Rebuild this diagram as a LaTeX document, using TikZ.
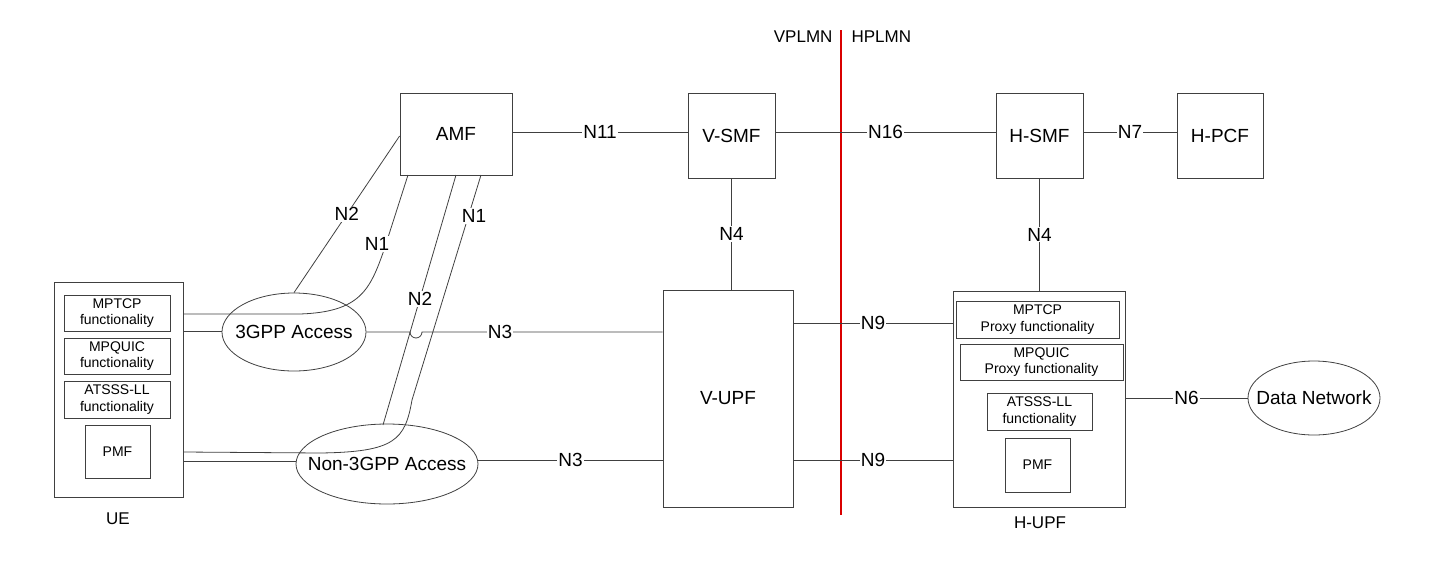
\documentclass[tikz,border=0pt]{standalone}
\usepackage{fontspec}
\setmainfont{Liberation Sans}
\usetikzlibrary{shapes.geometric}
\begin{document}
\begin{tikzpicture}[x=1pt,y=-1pt,
  ln/.style={line width=0.8pt,draw=black!75},
  box/.style={draw=black!75,line width=0.8pt,inner sep=0pt,font=\fontsize{19}{21}\selectfont},
  sub/.style={draw=black!75,line width=0.8pt,inner sep=0pt,align=center,font=\fontsize{14}{16.5}\selectfont},
  ell/.style={ellipse,draw=black!75,line width=0.8pt,inner sep=0pt},
  etxt/.style={font=\fontsize{19}{21}\selectfont},
  lbl/.style={fill=white,inner sep=1pt,font=\fontsize{19}{21}\selectfont}]
\useasboundingbox (0,0) rectangle (1430,576);
% UE
\node[box,minimum width=129,minimum height=215] (ue) at (118.5,389.5) {};
\node[font=\fontsize{17}{19}\selectfont] (uel) at (118,519) {UE};
\node[sub,minimum width=106,minimum height=36] (u1) at (117,313) {MPTCP\\functionality};
\node[sub,minimum width=106,minimum height=36] (u2) at (117,356) {MPQUIC\\functionality};
\node[sub,minimum width=106,minimum height=37] (u3) at (117,399.5) {ATSSS-LL\\functionality};
\node[sub,minimum width=65,minimum height=53] (u4) at (117.5,451.5) {PMF};
% access
\node[ell,minimum width=144,minimum height=78] (a3) at (294,332) {};
\node[etxt] (a3t) at (294,332) {3GPP Access};
\node[ell,minimum width=182,minimum height=80] (an) at (387,464) {};
\node[etxt] (ant) at (387,464) {Non-3GPP Access};
% core
\node[box,minimum width=112,minimum height=82] (amf) at (456,134) {AMF};
\node[box,minimum width=87,minimum height=85] (vsmf) at (731.5,135.5) {V-SMF};
\node[box,minimum width=87,minimum height=85] (hsmf) at (1039.5,135.5) {H-SMF};
\node[box,minimum width=86,minimum height=85] (hpcf) at (1220,135.5) {H-PCF};
\node[box,minimum width=130,minimum height=217] (vupf) at (728,398.5) {V-UPF};
\node[box,minimum width=172,minimum height=216] (hupf) at (1039,399) {};
\node[font=\fontsize{17}{19}\selectfont] (hupfl) at (1040,523) {H-UPF};
\node[sub,minimum width=163,minimum height=37] (h1) at (1037.5,319.5) {MPTCP\\Proxy functionality};
\node[sub,minimum width=163,minimum height=36] (h2) at (1041.5,362) {MPQUIC\\Proxy functionality};
\node[sub,minimum width=105,minimum height=37] (h3) at (1039.5,411.5) {ATSSS-LL\\functionality};
\node[sub,minimum width=65,minimum height=54] (h4) at (1037.5,465) {PMF};
\node[ell,minimum width=132,minimum height=74] (dn) at (1314,398) {};
\node[etxt] (dnt) at (1314,398) {Data Network};
% red line
\draw[draw=red!85!black,line width=2.5pt] (841,30) -- (841,515);
\node[font=\fontsize{17}{19}\selectfont,anchor=east] (vp) at (836,37) {VPLMN};
\node[font=\fontsize{17}{19}\selectfont,anchor=west] (hp) at (848,37) {HPLMN};
% connectors
\draw[ln] (amf.east |- 0,132) -- node[lbl] {N11} (vsmf.west |- 0,132);
\draw[ln] (vsmf.east |- 0,132) -- node[lbl] {N16} (hsmf.west |- 0,132);
\draw[ln] (hsmf.east |- 0,132) -- node[lbl] {N7} (hpcf.west |- 0,132);
\draw[ln] (vsmf.south) -- node[lbl] {N4} (vsmf.south |- vupf.north);
\draw[ln] (hsmf.south) -- node[lbl] {N4} (hsmf.south |- hupf.north);
\draw[ln] (vupf.east |- 0,323) -- node[lbl] {N9} (hupf.west |- 0,323);
\draw[ln] (vupf.east |- 0,460) -- node[lbl] {N9} (hupf.west |- 0,460);
\draw[ln] (hupf.east |- dn.west) -- node[lbl] {N6} (dn.west);
\coordinate (hop1) at (410,332);
\draw[ln] (a3.east) -- (hop1) arc[start angle=180,end angle=0,radius=6] -- (vupf.west |- 0,332);
\node[lbl] (n3a) at (500,332) {N3};
\draw[ln] (an.east |- 0,460) -- node[lbl,pos=0.5] {N3} (vupf.west |- 0,460);
\draw[ln] (ue.east |- 0,331) -- (a3.west |- 0,331);
\draw[ln] (ue.east |- 0,461) -- (an.west |- 0,461);
\draw[ln] (a3.north) -- node[lbl,pos=0.5] {N2} (amf.west |- 0,136);
\draw[ln] (ue.east |- 0,314) -- (300,314) .. controls (360,312) and (370,290) .. (384,250) -- (408,175);
\node[lbl] (n1a) at (377,244) {N1};
\coordinate (n2b) at (383,425);
\draw[ln] (n2b) -- (456,175);
\node[lbl] (n2bl) at (420,299) {N2};
\draw[ln] (ue.east |- 0,452) -- (320,453) .. controls (395,452) and (405,440) .. (412,400) -- (481,175);
\node[lbl] (n1b) at (474,216) {N1};
\end{tikzpicture}
\end{document}
